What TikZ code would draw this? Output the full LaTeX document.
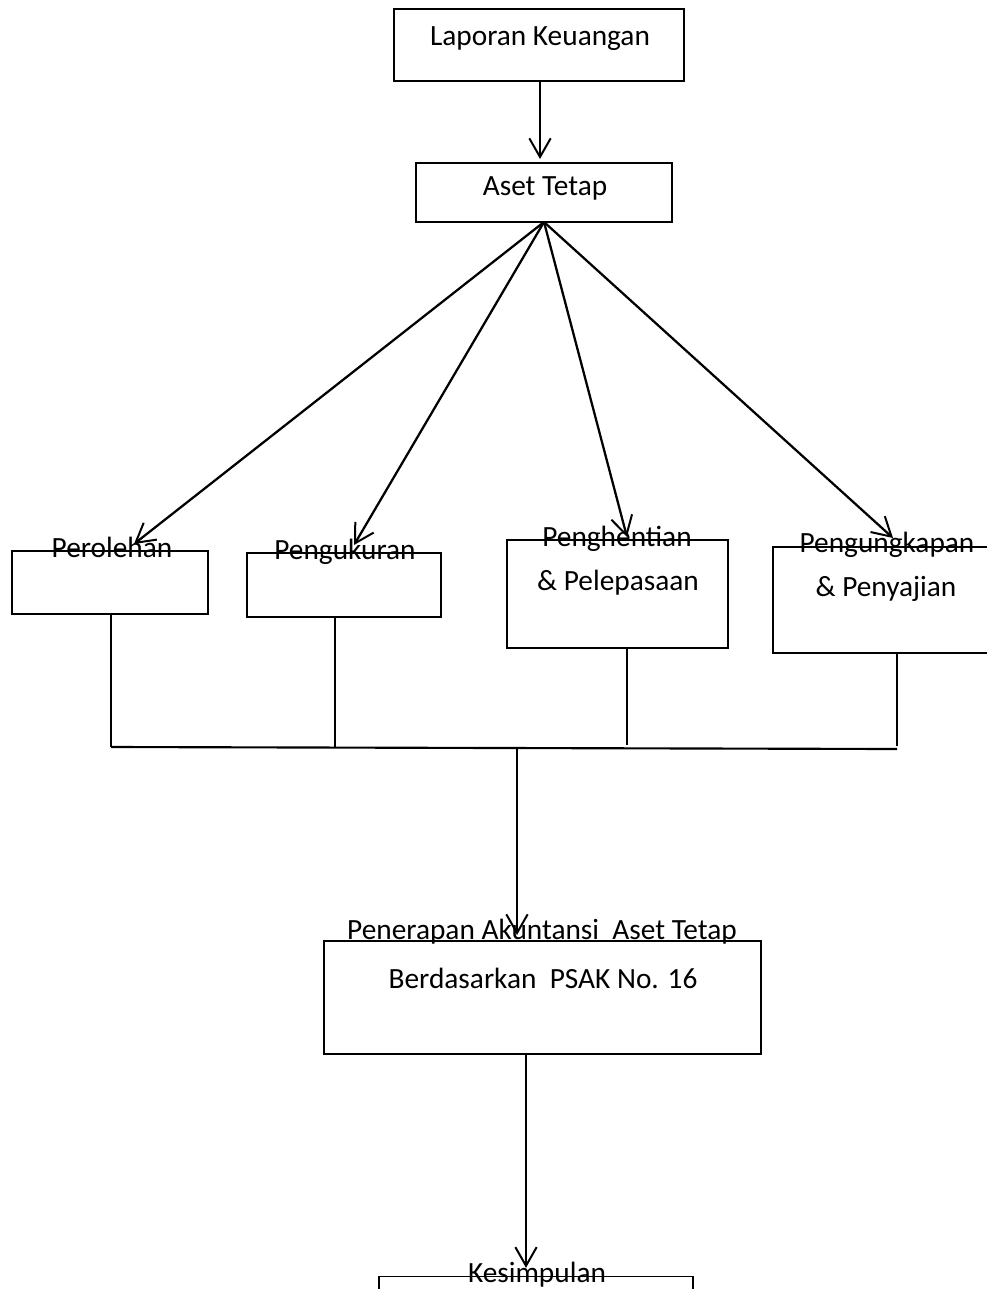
\documentclass[tikz,border=0pt]{standalone}
\usepackage{fontspec}
\setmainfont{Carlito}
\usetikzlibrary{arrows.meta,calc}
\begin{document}
\begin{tikzpicture}[x=0.75pt,y=-0.75pt,
  box/.style={draw=black,line width=1.1pt,inner sep=0pt,outer sep=0pt,fill=none},
  txt/.style={inner sep=0pt,anchor=base,font=\fontsize{22}{33}\selectfont},
  arr/.style={line width=1.7pt,-{Straight Barb[length=14pt,width=16pt,line width=1.5pt]}},
  ln/.style={line width=1.6pt}]
\useasboundingbox (0,0) rectangle (987,1289);
\clip (0,0) rectangle (987,1289);
\fill[white] (0,0) rectangle (987,1289);
% boxes
\node[box,minimum width=217.5pt,minimum height=54pt] (lk) at (539,45) {};
\node[box,minimum width=192pt,minimum height=44.25pt] (aset) at (544,192.5) {};
\node[box,minimum width=147pt,minimum height=47.25pt] (per) at (110,582.5) {};
\node[box,minimum width=145.5pt,minimum height=48pt] (peng) at (344,585) {};
\node[box,minimum width=165.75pt,minimum height=81pt] (phen) at (617.5,594) {};
\node[box,minimum width=170.25pt,minimum height=79.5pt] (pung) at (886.5,600) {};
\node[box,minimum width=327.75pt,minimum height=84.75pt] (pen) at (542.5,997.5) {};
\node[box,minimum width=235.5pt,minimum height=47.25pt] (kes) at (536,1308) {};
% texts
\node[txt] (tlk) at (540,45) {Laporan Keuangan};
\node[txt] (taset) at (545,195) {Aset Tetap};
\node[txt] (tper) at (112,557) {Perolehan};
\node[txt] (tpeng) at (345,559) {Pengukuran};
\node[txt] (tphen1) at (617,546) {Penghentian};
\node[txt] (tphen2) at (618,590) {\& Pelepasaan};
\node[txt] (tpung1) at (887,552) {Pengungkapan};
\node[txt] (tpung2) at (886,596) {\& Penyajian};
\node[txt] (tpen1) at (542,939) {Penerapan Akuntansi\ \ Aset Tetap};
\node[txt] (tpen2) at (543,988) {Berdasarkan\ \ PSAK No. 16};
\node[txt] (tkes) at (537,1282) {Kesimpulan};
% arrow targets and junctions
\coordinate (a0) at (540,81);
\coordinate (t1) at (134,544);
\coordinate (t2) at (354,545);
\coordinate (t3) at (627,537);
\coordinate (t4) at (893,538);
\coordinate (j1) at (111,747);
\coordinate (j2) at (335,747.5);
\coordinate (j3) at (627,748);
\coordinate (j4) at (897,749);
\coordinate (jm) at (517,748);
\coordinate (k0) at (526,1054);
% connectors
\draw[arr,shorten >=3pt] (lk.south -| a0) -- (aset.north -| a0);
\draw[arr] (aset.south) -- (t1);
\draw[arr] (aset.south) -- (t2);
\draw[arr] (aset.south) -- (t3);
\draw[arr] (aset.south) -- (t4);
\draw[ln] (per.south -| j1) -- (j1);
\draw[ln] (peng.south -| j2) -- (j2);
\draw[ln] (phen.south -| j3) -- ($(j3)+(0,-3)$);
\draw[ln] (pung.south -| j4) -- ($(j4)+(0,-3)$);
\draw[ln] (j1) -- (j4);
\draw[arr,shorten >=4.5pt] (jm) -- (pen.north -| jm);
\draw[arr,shorten >=6.5pt] (pen.south -| k0) -- (kes.north -| k0);
\end{tikzpicture}
\end{document}
